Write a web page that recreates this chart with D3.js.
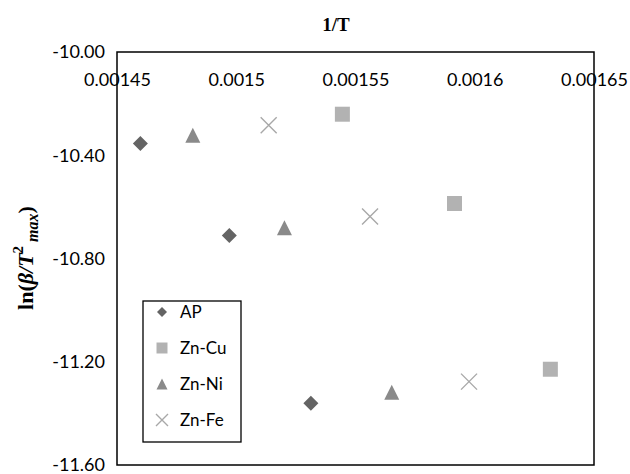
<!DOCTYPE html>
<html>
<head>
<meta charset="utf-8">
<script src="https://cdn.jsdelivr.net/npm/d3@7"></script>
<style>
body { margin: 0; background: #fff; }
text { font-family: Lato, "Open Sans", sans-serif; }
</style>
</head>
<body>
<svg id="chart" width="630" height="474"></svg>
<script>
// data (x = 1/T, y = ln(beta/T^2max))
var seriesNames = ["AP", "Zn-Cu", "Zn-Ni", "Zn-Fe"];
var apX = [0.0014598, 0.0014971, 0.0015313];
var apY = [-10.354, -10.711, -11.361];
var cuX = [0.0015445, 0.0015915, 0.0016317];
var cuY = [-10.241, -10.587, -11.229];
var niX = [0.0014818, 0.0015202, 0.0015652];
var niY = [-10.323, -10.681, -11.318];
var feX = [0.0015136, 0.0015561, 0.0015976];
var feY = [-10.284, -10.637, -11.277];
var xTicks = [0.00145, 0.0015, 0.00155, 0.0016, 0.00165];
var yTicks = [-10.0, -10.4, -10.8, -11.2, -11.6];

var margin = {left: 117, right: 36, top: 52, bottom: 9};
var W = 630, H = 474;

var svg = d3.select("#chart");
var x = d3.scaleLinear().domain([0.00145, 0.00165]).range([margin.left, W - margin.right]);
var y = d3.scaleLinear().domain([-10.0, -11.6]).range([margin.top, H - margin.bottom]);

var series = [
    {name: seriesNames[0], xs: apX, ys: apY, shape: "diamond", color: "#646464"},
    {name: seriesNames[1], xs: cuX, ys: cuY, shape: "square", color: "#b2b2b2"},
    {name: seriesNames[2], xs: niX, ys: niY, shape: "triangle", color: "#8a8a8a"},
    {name: seriesNames[3], xs: feX, ys: feY, shape: "cross", color: "#a8a8a8"}
];

// plain hyphen for negatives, like the original
var fmtY = function(v) { return d3.format(".2f")(v).replace("\u2212", "-"); };

// marker path, s = full width in px
function marker(shape, s) {
    var h = s / 2;
    if (shape == "diamond") return "M0," + (-h) + "L" + h + ",0L0," + h + "L" + (-h) + ",0Z";
    if (shape == "square") return "M" + (-h) + "," + (-h) + "h" + s + "v" + s + "h" + (-s) + "Z";
    if (shape == "triangle") return "M0," + (-h) + "L" + h + "," + h + "L" + (-h) + "," + h + "Z";
    return "M" + (-h) + "," + (-h) + "L" + h + "," + h + "M" + h + "," + (-h) + "L" + (-h) + "," + h;
}

function drawMarker(g, d, s) {
    var p = g.append("path").attr("d", marker(d.shape, s));
    if (d.shape == "cross") p.attr("fill", "none").attr("stroke", d.color).attr("stroke-width", 1.4);
    else p.attr("fill", d.color);
    return p;
}

// plot frame
svg.append("rect")
    .attr("x", x.range()[0]).attr("y", y.range()[0])
    .attr("width", x.range()[1] - x.range()[0])
    .attr("height", y.range()[1] - y.range()[0])
    .attr("fill", "none").attr("stroke", "#000").attr("stroke-width", 1.5);

// y axis
var yAxis = svg.append("g")
    .attr("transform", "translate(" + margin.left + ",0)")
    .call(d3.axisLeft(y).tickValues(yTicks).tickSize(0).tickPadding(12).tickFormat(fmtY));
yAxis.select(".domain").remove();
yAxis.selectAll("text").attr("font-size", 18).attr("fill", "#000")
    .style("font-family", "Lato, 'Open Sans', sans-serif");

// x axis, labels hang under the top edge
var xAxis = svg.append("g")
    .attr("transform", "translate(0," + margin.top + ")")
    .call(d3.axisBottom(x).tickValues(xTicks).tickSize(0).tickPadding(21).tickFormat(d3.format("~g")));
xAxis.select(".domain").remove();
xAxis.selectAll("text").attr("font-size", 18).attr("fill", "#000")
    .style("font-family", "Lato, 'Open Sans', sans-serif");

// titles
svg.append("text")
    .attr("x", 336).attr("y", 31)
    .attr("text-anchor", "middle")
    .style("font-family", "'Liberation Serif', 'DejaVu Serif', serif")
    .attr("font-weight", "bold").attr("font-size", 19)
    .text("1/T");

var yt = svg.append("text")
    .attr("transform", "translate(33,258) rotate(-90)")
    .attr("text-anchor", "middle")
    .style("font-family", "'Liberation Serif', 'DejaVu Serif', serif")
    .attr("font-weight", "bold").attr("font-size", 22);
yt.append("tspan").text("ln(");
yt.append("tspan").attr("font-style", "italic").text("β/T");
yt.append("tspan").attr("font-size", 15).attr("dy", -10).text("2");
yt.append("tspan").attr("font-style", "italic").attr("font-size", 16).attr("dy", 15).text(" max");
yt.append("tspan").attr("dy", -5).text(")");

// points
series.forEach(function(d) {
    var g = svg.append("g");
    d.xs.forEach(function(v, i) {
        drawMarker(g, d, d.shape == "cross" ? 16 : 15)
            .attr("transform", "translate(" + x(v) + "," + y(d.ys[i]) + ")");
    });
});

// legend
var leg = svg.append("g").attr("transform", "translate(143,301)");
leg.append("rect").attr("width", 98).attr("height", 141)
    .attr("fill", "#fff").attr("stroke", "#000").attr("stroke-width", 1.3);
series.forEach(function(d, i) {
    var row = leg.append("g").attr("transform", "translate(19," + (11 + i * 36) + ")");
    drawMarker(row, d, d.shape == "cross" ? 12 : (d.shape == "diamond" ? 10 : 11));
    row.append("text").attr("x", 18).attr("dy", "0.35em")
        .attr("font-size", 17).attr("fill", "#000").text(d.name);
});
</script>
</body>
</html>
